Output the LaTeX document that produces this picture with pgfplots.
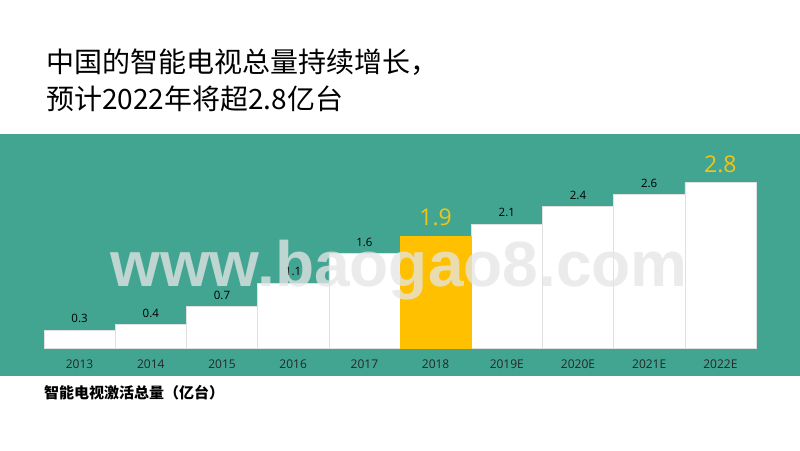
\documentclass[border=0pt]{standalone}
\usepackage{pgfplots}
\pgfplotsset{compat=1.18}
\usepackage{fontspec}
\setmainfont{Open Sans}
\newfontfamily\cjk{Noto Sans CJK SC}
\newfontfamily\wm{Liberation Sans}
\definecolor{band}{HTML}{42A592}
\definecolor{gold}{HTML}{FFC000}
\definecolor{goldtext}{HTML}{F0C419}

\begin{document}
\begin{tikzpicture}
% page and green band
\path[use as bounding box, fill=white] (0,0) rectangle (800pt,450pt);
\fill[band] (0,74pt) rectangle (800pt,316pt);

% title
\node[anchor=west, align=left, inner sep=0pt,
      font=\cjk\fontsize{28}{37}\selectfont] at (46pt,370pt)
  {中国的智能电视总量持续增长，\\预计2022年将超2.8亿台};

\begin{axis}[
    at={(44pt,102pt)}, anchor=south west,
    scale only axis,
    width=712pt, height=177pt,
    xmin=-0.5, xmax=9.5,
    ymin=0, ymax=3,
    clip=false,
    axis x line=bottom,
    axis y line=none,
    x axis line style={-, draw=black!15, line width=0.8pt},
    major tick length=0pt,
    xtick={0,...,9},
    xticklabels={2013,2014,2015,2016,2017,2018,2019E,2020E,2021E,2022E},
    xticklabel style={text=black!85, font=\fontsize{12}{12}\selectfont,
        text height=9pt, text depth=0pt, inner sep=0pt, anchor=north, yshift=-11pt},
    ybar, bar width=71.2pt, bar shift=0pt,
    /pgf/number format/assume math mode=true,
]
\addplot[fill=white, draw=black!12, line width=0.6pt] coordinates {
    (0,0.3)(1,0.4)(2,0.7)(3,1.1)(4,1.6)(6,2.1)(7,2.4)(8,2.6)(9,2.8)
};
\addplot[fill=gold, draw=gold] coordinates {(5,1.9)};
% value labels
\addplot[draw=none, fill=none, nodes near coords,
    nodes near coords style={text=black, anchor=south, inner sep=0pt, yshift=7pt,
        font=\fontsize{11.5}{11.5}\selectfont}] coordinates {
    (0,0.3)(1,0.4)(2,0.7)(3,1.1)(4,1.6)(6,2.1)(7,2.4)(8,2.6)
};
\addplot[draw=none, fill=none, nodes near coords,
    nodes near coords style={text=goldtext, anchor=south, inner sep=0pt, yshift=10pt,
        font=\fontsize{23}{23}\selectfont}] coordinates {
    (5,1.9)(9,2.8)
};
\end{axis}

% watermark
\node[anchor=base, inner sep=0pt, text=black!10, text opacity=0.76,
      font=\wm\bfseries\fontsize{64}{64}\selectfont] at (399pt,163pt) {www.baogao8.com};

% caption under the band
\node[anchor=west, inner sep=0pt, font=\cjk\bfseries\fontsize{15}{15}\selectfont]
  at (44pt,57pt) {智能电视激活总量（亿台）};
\end{tikzpicture}
\end{document}
